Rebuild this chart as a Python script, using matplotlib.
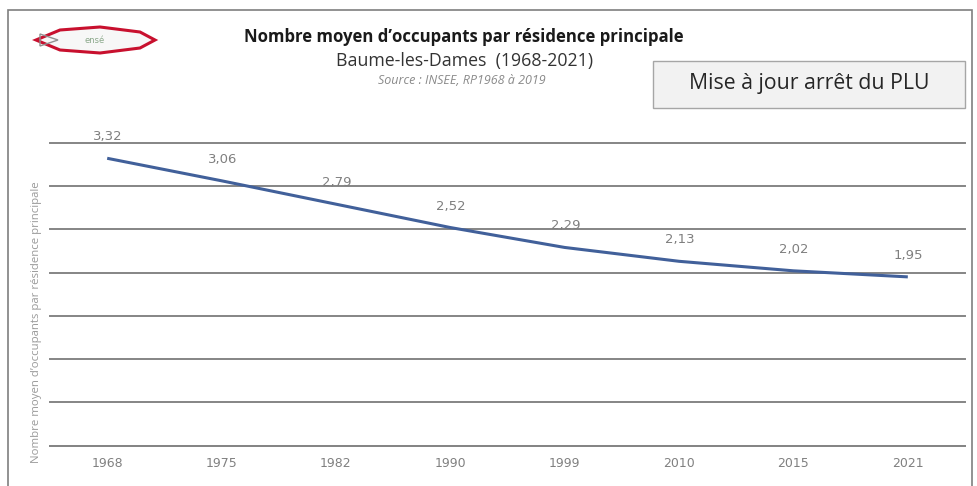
import matplotlib
matplotlib.use("Agg")
import matplotlib.pyplot as plt
from matplotlib.patches import Rectangle, Polygon
import numpy as np

years = ["1968", "1975", "1982", "1990", "1999", "2010", "2015", "2021"]
values = [3.32, 3.06, 2.79, 2.52, 2.29, 2.13, 2.02, 1.95]
labels = ["3,32", "3,06", "2,79", "2,52", "2,29", "2,13", "2,02", "1,95"]

W, H = 977, 486
fig = plt.figure(figsize=(W / 100, H / 100), dpi=100)
fig.patch.set_facecolor("white")

def fx(px):
    return px / W

def fy(py):
    return 1 - py / H

ax = fig.add_axes([fx(50), fy(445.7), fx(965) - fx(50), fy(142.7) - fy(445.7)])
x = np.arange(len(years))
ax.plot(x, values, color="#41609a", lw=2.2, solid_capstyle="butt", zorder=3)
for xi, v, lab in zip(x, values, labels):
    ax.annotate(lab, (xi, v), xytext=(0.5, 15.5), textcoords="offset points",
                ha="center", va="center", fontsize=9.5, color="#7f7f7f",
                family="Liberation Sans Narrow", annotation_clip=False)
ax.set_xlim(-0.5, len(years) - 0.5)
ax.set_ylim(0, 3.5)
ax.set_yticks(np.arange(0, 3.51, 0.5))
ax.yaxis.grid(True, color="#858585", lw=1.4)
for gl in ax.get_ygridlines():
    gl.set_clip_on(False)
ax.set_axisbelow(True)
ax.set_yticklabels([])
ax.tick_params(axis="y", length=0)
ax.set_xticks(x)
ax.set_xticklabels(years, fontsize=9, color="#808080", family="Liberation Sans Narrow")
ax.tick_params(axis="x", length=0, pad=8)
for s in ["top", "right", "left"]:
    ax.spines[s].set_visible(False)
ax.spines["bottom"].set_color("#858585")
ax.spines["bottom"].set_linewidth(1.4)
ax.set_facecolor("none")

# outer frame
fig.add_artist(Rectangle((fx(8), fy(500)), fx(972) - fx(8), fy(10) - fy(500),
                         transform=fig.transFigure, fill=False, ec="#7f7f7f", lw=1.2))

# titles
fig.text(fx(464), fy(37), "Nombre moyen d\u2019occupants par résidence principale",
         ha="center", va="center", fontsize=12.1, fontweight="bold", color="#1a1a1a",
         family="Open Sans")
fig.text(fx(465), fy(61), "Baume-les-Dames  (1968-2021)", ha="center", va="center",
         fontsize=12.8, color="#333333", family="Open Sans")
fig.text(fx(462), fy(80), "Source : INSEE, RP1968 à 2019", ha="center", va="center",
         fontsize=9, style="italic", color="#8a8a8a", family="Open Sans")

# box
fig.add_artist(Rectangle((fx(653), fy(108)), fx(965) - fx(653), fy(61) - fy(108),
                         transform=fig.transFigure, fc="#f2f2f2", ec="#a6a6a6", lw=1.0))
fig.text(fx(809), fy(84), "Mise à jour arrêt du PLU", ha="center", va="center",
         fontsize=15.3, color="#262626", family="Open Sans")

# y label
fig.text(fx(37), fy(322), "Nombre moyen d\u2019occupants par résidence principale",
         rotation=90, ha="center", va="center", fontsize=8.2, color="#9a9a9a",
         family="Open Sans")

# logo (approximation)
logo_x = [36, 60, 100, 140, 155, 140, 100, 60, 36]
logo_y = [40, 30, 27, 32, 40, 48, 53, 50, 40]
fig.add_artist(Polygon([(fx(a), fy(b)) for a, b in zip(logo_x, logo_y)], closed=True,
                       transform=fig.transFigure, fc="#f7f7f7", ec="#c8102e", lw=2.2))
fig.add_artist(Polygon([(fx(a), fy(b)) for a, b in [(40, 34), (58, 40), (40, 46)]],
                       closed=True, transform=fig.transFigure, fc="none", ec="#909090", lw=1.0))
fig.text(fx(95), fy(40.5), "ensé", ha="center", va="center", fontsize=6,
         color="#8aa88a", family="DejaVu Sans")

fig.savefig("out.png", dpi=100)
